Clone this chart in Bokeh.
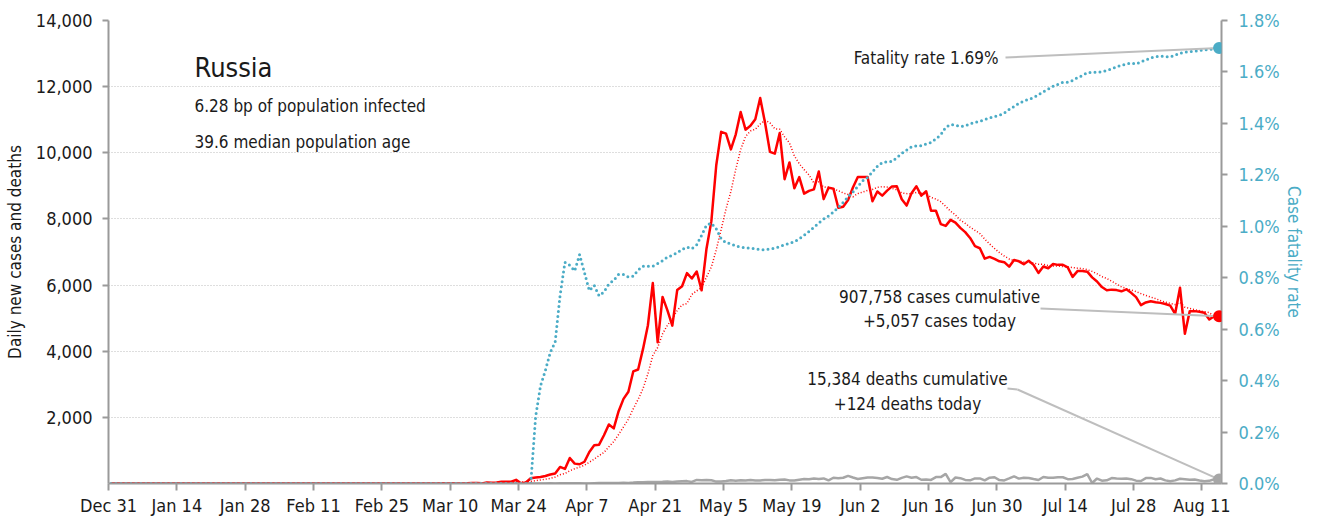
import pandas as pd
from bokeh.plotting import figure
from bokeh.models import (Range1d, LinearAxis, FixedTicker, NumeralTickFormatter,
                          PrintfTickFormatter, Label, Arrow, BoxAnnotation, ColumnDataSource)
from bokeh.embed import file_html
from bokeh.resources import INLINE

FONT = "'DejaVu Sans Condensed', 'Liberation Sans', sans-serif"
BLUE = "#4BACC6"
RED = "#FF0000"
GRAY = "#A6A6A6"
TXT = "#1a1a1a"

# ---------------- data (daily, one value per day from 31 Dec 2019) ----------------
first_day = "2019-12-31 12:00"

cases_dec_jan = [0] * 32
cases_feb = [2] + [0] * 28
cases_mar = [0, 0, 1, 0, 0, 0, 1, 9, 0, 4,
             3, 0, 8, 17, 14, 4, 27, 24, 33, 52,
             54, 53, 110, 10, 30, 160, 182, 196, 228, 270, 302]
cases_apr = [500, 440, 771, 601, 582, 658, 954, 1154, 1175, 1459,
             1786, 1667, 2186, 2558, 2774, 3388, 3448, 4070, 4785, 6060,
             4268, 5642, 5236, 4774, 5849, 5966, 6361, 6198, 6411, 5841]
cases_may = [7099, 7933, 9623, 10633, 10581, 10102, 10559, 11231, 10699, 10817,
             11012, 11656, 10899, 10028, 9974, 10598, 9200, 9709, 8926, 9263,
             8764, 8849, 8894, 9434, 8599, 8946, 8915, 8338, 8371, 8572, 8952]
cases_jun = [9268, 9268, 9268, 8536, 8831, 8705, 8855, 8984, 8985, 8595,
             8404, 8779, 8987, 8706, 8835, 8246, 8248, 7843, 7790, 7972,
             7889, 7728, 7600, 7425, 7176, 7113, 6800, 6852, 6791, 6719]
cases_jul = [6693, 6556, 6760, 6718, 6632, 6736, 6611, 6368, 6562, 6509,
             6635, 6611, 6615, 6537, 6248, 6422, 6428, 6406, 6234, 6109,
             5940, 5842, 5862, 5848, 5811, 5871, 5765, 5635, 5395, 5475, 5509]
cases_aug = [5482, 5462, 5427, 5380, 5131, 5919, 4525, 5212, 5212, 5191,
             5161, 4960, 5060, 5057]

avg_dec_jan = [0] * 32
avg_feb = [0] * 29
avg_mar = [0, 0, 0, 0, 0, 0, 0, 2, 2, 2,
           2, 2, 4, 6, 7, 7, 10, 13, 18, 24,
           30, 35, 50, 48, 49, 67, 86, 106, 131, 154, 195]
avg_apr = [263, 303, 387, 445, 495, 551, 644, 737, 842, 940,
           1110, 1265, 1483, 1712, 1944, 2260, 2544, 2870, 3316, 3869,
           4113, 4523, 4787, 4976, 5231, 5399, 5442, 5718, 5828, 5914]
avg_may = [6246, 6544, 7067, 7677, 8303, 8830, 9504, 10095, 10490, 10660,
           10714, 10868, 10982, 10906, 10726, 10712, 10481, 10295, 9905, 9671,
           9491, 9330, 9086, 9120, 8961, 8964, 8914, 8854, 8785, 8739, 8670]
avg_jun = [8766, 8812, 8862, 8891, 8956, 8975, 8962, 8921, 8881, 8784,
           8766, 8758, 8798, 8777, 8756, 8650, 8601, 8521, 8379, 8234,
           8118, 7959, 7867, 7750, 7654, 7558, 7390, 7242, 7108, 6982]
avg_jul = [6878, 6789, 6739, 6727, 6696, 6688, 6672, 6626, 6627, 6591,
           6579, 6576, 6559, 6548, 6531, 6511, 6499, 6467, 6413, 6341,
           6255, 6197, 6117, 6034, 5949, 5898, 5848, 5805, 5741, 5686, 5637]
avg_aug = [5590, 5532, 5484, 5447, 5409, 5473, 5332, 5294, 5258, 5224,
           5193, 5169, 5046, 5122]

deaths_dec_jan = [0] * 32
deaths_feb = [0] * 29
deaths_mar = [0] * 19 + [1, 0, 0, 0, 0, 0, 1, 1, 1, 0, 5, 1]
deaths_apr = [8, 7, 6, 4, 9, 2, 2, 11, 13, 12,
              13, 12, 18, 22, 18, 28, 41, 36, 48, 43,
              48, 51, 57, 42, 60, 66, 72, 47, 108, 101]
deaths_may = [108, 96, 57, 58, 76, 95, 86, 98, 88, 104,
              88, 94, 107, 107, 96, 113, 119, 94, 91, 115,
              135, 127, 150, 139, 153, 92, 174, 161, 174, 232, 181]
deaths_jun = [138, 162, 182, 178, 169, 144, 197, 134, 112, 171,
              216, 174, 194, 113, 119, 109, 193, 194, 290, 40,
              181, 161, 109, 95, 153, 154, 92, 176, 188, 104]
deaths_jul = [93, 154, 216, 147, 176, 168, 135, 104, 198, 173,
              174, 186, 188, 130, 136, 175, 208, 285, 15, 150,
              85, 95, 165, 150, 147, 154, 131, 86, 77, 164, 169]
deaths_aug = [129, 150, 95, 70, 95, 144, 129, 114, 119, 93,
              70, 80, 130, 124]

cfr_dec_jan = [0.0] * 32
cfr_feb = [0.0] * 29
cfr_mar = [0.0] * 26 + [0.26, 0.38, 0.44, 0.51, 0.55]
cfr_apr = [0.73, 0.86, 0.848, 0.826, 0.89, 0.82, 0.75, 0.77, 0.73, 0.745,
           0.776, 0.79, 0.813, 0.813, 0.803, 0.806, 0.83, 0.845, 0.845, 0.845,
           0.855, 0.866, 0.88, 0.887, 0.897, 0.91, 0.919, 0.913, 0.928, 0.965]
cfr_may = [1.005, 1.012, 0.99, 0.952, 0.936, 0.932, 0.923, 0.919, 0.917, 0.915,
           0.912, 0.909, 0.909, 0.912, 0.915, 0.921, 0.928, 0.934, 0.94, 0.951,
           0.965, 0.98, 0.996, 1.013, 1.028, 1.04, 1.055, 1.073, 1.093, 1.115, 1.133]
cfr_jun = [1.155, 1.177, 1.19, 1.212, 1.233, 1.248, 1.251, 1.252, 1.267, 1.283,
           1.296, 1.309, 1.313, 1.313, 1.32, 1.326, 1.34, 1.356, 1.385, 1.396,
           1.393, 1.388, 1.39, 1.398, 1.404, 1.408, 1.415, 1.421, 1.427, 1.431]
cfr_jul = [1.44, 1.454, 1.466, 1.478, 1.487, 1.494, 1.5, 1.511, 1.523, 1.533,
           1.544, 1.552, 1.56, 1.56, 1.567, 1.578, 1.586, 1.597, 1.599, 1.599,
           1.601, 1.606, 1.612, 1.62, 1.626, 1.631, 1.634, 1.631, 1.64, 1.646, 1.655]
cfr_aug = [1.659, 1.661, 1.66, 1.658, 1.665, 1.673, 1.677, 1.679, 1.68, 1.683,
           1.686, 1.687, 1.689, 1.693]

tick_labels = ["Dec 31", "Jan 14", "Jan 28", "Feb 11", "Feb 25", "Mar 10", "Mar 24",
               "Apr 7", "Apr 21", "May 5", "May 19", "Jun 2", "Jun 16", "Jun 30",
               "Jul 14", "Jul 28", "Aug 11"]
cases_ticks = [2000, 4000, 6000, 8000, 10000, 12000, 14000]
cfr_ticks = [0.0, 0.2, 0.4, 0.6, 0.8, 1.0, 1.2, 1.4, 1.6, 1.8]

country = "Russia"
bp_infected = "6.28"
median_age = "39.6"
cum_cases = 907758
cum_deaths = 15384

# ---------------- assemble ----------------
cases = cases_dec_jan + cases_feb + cases_mar + cases_apr + cases_may + cases_jun + cases_jul + cases_aug
avg7 = avg_dec_jan + avg_feb + avg_mar + avg_apr + avg_may + avg_jun + avg_jul + avg_aug
deaths = deaths_dec_jan + deaths_feb + deaths_mar + deaths_apr + deaths_may + deaths_jun + deaths_jul + deaths_aug
cfr = cfr_dec_jan + cfr_feb + cfr_mar + cfr_apr + cfr_may + cfr_jun + cfr_jul + cfr_aug
dates = pd.date_range(first_day, periods=len(cases), freq="D")

src = ColumnDataSource(dict(date=dates, cases=cases, avg7=avg7, deaths=deaths, cfr=cfr))

x_start = pd.Timestamp("2019-12-31")
x_end = pd.Timestamp("2020-08-15")
Y_MAX = 14000
CFR_MAX = 1.8

W, H = 1309, 519
BL, BR, BT, BB = 108, 88, 20, 36
p = figure(width=W, height=H, x_axis_type="datetime",
           x_range=Range1d(x_start, x_end), y_range=Range1d(0, Y_MAX),
           output_backend="svg", toolbar_location=None,
           min_border_left=BL, min_border_right=BR, min_border_top=BT, min_border_bottom=BB)
p.extra_y_ranges = {"cfr": Range1d(0, CFR_MAX)}
p.outline_line_color = None
p.background_fill_color = "white"
p.border_fill_color = "white"

# grid
p.xgrid.grid_line_color = None
p.ygrid.ticker = FixedTicker(ticks=cases_ticks)
p.ygrid.grid_line_color = "#BDBDBD"
p.ygrid.grid_line_dash = "1 2"
p.ygrid.grid_line_width = 1

AXC = "#9A9A9A"
# x axis
xa = p.xaxis[0]
tick_ms = [t.value / 1e6 for t in pd.date_range(x_start, periods=len(tick_labels), freq="14D")]
xa.ticker = FixedTicker(ticks=tick_ms)
xa.major_label_overrides = {ms: lab for ms, lab in zip(tick_ms, tick_labels)}
xa.axis_line_color = AXC
xa.axis_line_width = 2
xa.major_tick_line_color = AXC
xa.major_tick_line_width = 2
xa.major_tick_out = 7
xa.major_tick_in = 0
xa.minor_tick_line_color = None
xa.major_label_text_font = FONT
xa.major_label_text_font_size = "18px"
xa.major_label_text_color = TXT
xa.major_label_standoff = 4

# left axis
ya = p.yaxis[0]
ya.ticker = FixedTicker(ticks=cases_ticks)
ya.formatter = NumeralTickFormatter(format="0,0")
ya.axis_label = "Daily new cases and deaths"
ya.axis_label_text_font = FONT
ya.axis_label_text_font_size = "17px"
ya.axis_label_text_font_style = "normal"
ya.axis_label_text_color = TXT
ya.axis_label_standoff = 8
ya.axis_line_color = AXC
ya.axis_line_width = 2
ya.major_tick_line_color = AXC
ya.major_tick_line_width = 2
ya.major_tick_out = 6
ya.major_tick_in = 0
ya.minor_tick_line_color = None
ya.major_label_text_font = FONT
ya.major_label_text_font_size = "18px"
ya.major_label_text_color = TXT
ya.major_label_standoff = 10

# right axis
ra = LinearAxis(y_range_name="cfr", ticker=FixedTicker(ticks=cfr_ticks),
                formatter=PrintfTickFormatter(format="%.1f%%"))
ra.axis_label = "Case fatality rate"
ra.axis_label_text_font = FONT
ra.axis_label_text_font_size = "17px"
ra.axis_label_text_font_style = "normal"
ra.axis_label_text_color = BLUE
ra.axis_label_standoff = 1
ra.axis_line_color = AXC
ra.axis_line_width = 2
ra.major_tick_line_color = AXC
ra.major_tick_line_width = 2
ra.major_tick_out = 6
ra.major_tick_in = 0
ra.minor_tick_line_color = None
ra.major_label_text_font = FONT
ra.major_label_text_font_size = "18px"
ra.major_label_text_color = BLUE
ra.major_label_standoff = 11
p.add_layout(ra, "right")

# series
p.line("date", "deaths", source=src, line_color=GRAY, line_width=2.5)
p.line("date", "cases", source=src, line_color=RED, line_width=2.5, line_join="round")
p.line("date", "avg7", source=src, line_color=RED, line_width=1.5, line_dash="1 2")
p.line("date", "cfr", source=src, y_range_name="cfr", line_color=BLUE, line_width=3,
       line_dash="0 5", line_cap="round")

# leader lines
x_last = dates[-1].value / 1e6
leader = dict(line_color="#BEBEBE", line_width=2, start=None, end=None)
p.add_layout(Arrow(x_start=897, y_start=426, start_units="screen",
                   x_end=x_last, y_end=cfr[-1], end_units="data", y_range_name="cfr", **leader))
p.add_layout(Arrow(x_start=932, y_start=175, start_units="screen",
                   x_end=x_last, y_end=cases[-1], end_units="data", **leader))
p.add_layout(Arrow(x_start=899, y_start=95, start_units="screen",
                   x_end=909, y_end=94, end_units="screen", **leader))
p.add_layout(Arrow(x_start=909, y_start=94, start_units="screen",
                   x_end=x_last, y_end=deaths[-1], end_units="data", **leader))

# end-point dots, drawn as round annotations so they are not cut by the plot frame
frame_w = W - BL - BR
frame_h = H - BT - BB
ms_per_px = (x_end - x_start).total_seconds() * 1000 / frame_w
DOT = 12

def end_dot(yval, color, per_px, range_name="default"):
    hx = DOT / 2 * ms_per_px
    hy = DOT / 2 * per_px
    p.add_layout(BoxAnnotation(left=x_last - hx, right=x_last + hx,
                               bottom=yval - hy, top=yval + hy,
                               fill_color=color, fill_alpha=1, line_color=None,
                               border_radius=DOT // 2, y_range_name=range_name))

end_dot(deaths[-1], GRAY, Y_MAX / frame_h)
end_dot(cases[-1], RED, Y_MAX / frame_h)
end_dot(cfr[-1], BLUE, CFR_MAX / frame_h, "cfr")

# texts
def lab(x, y, text, size="17px", align="left", color=TXT):
    p.add_layout(Label(x=x, y=y, x_units="screen", y_units="screen", text=text,
                       text_font=FONT, text_font_size=size, text_color=color,
                       text_align=align, text_baseline="alphabetic"))

lab(86, 416, country, size="27px")
lab(86, 378, f"{bp_infected} bp of population infected")
lab(86, 342, f"{median_age} median population age")
lab(890, 426, f"Fatality rate {100 * cum_deaths / cum_cases:.2f}%", align="right")
lab(831, 187, f"{cum_cases:,} cases cumulative", align="center")
lab(831, 163, f"+{cases[-1]:,} cases today", align="center")
lab(799, 105, f"{cum_deaths:,} deaths cumulative", align="center")
lab(799, 80, f"+{deaths[-1]:,} deaths today", align="center")

open("out.html", "w").write(file_html(p, INLINE))
